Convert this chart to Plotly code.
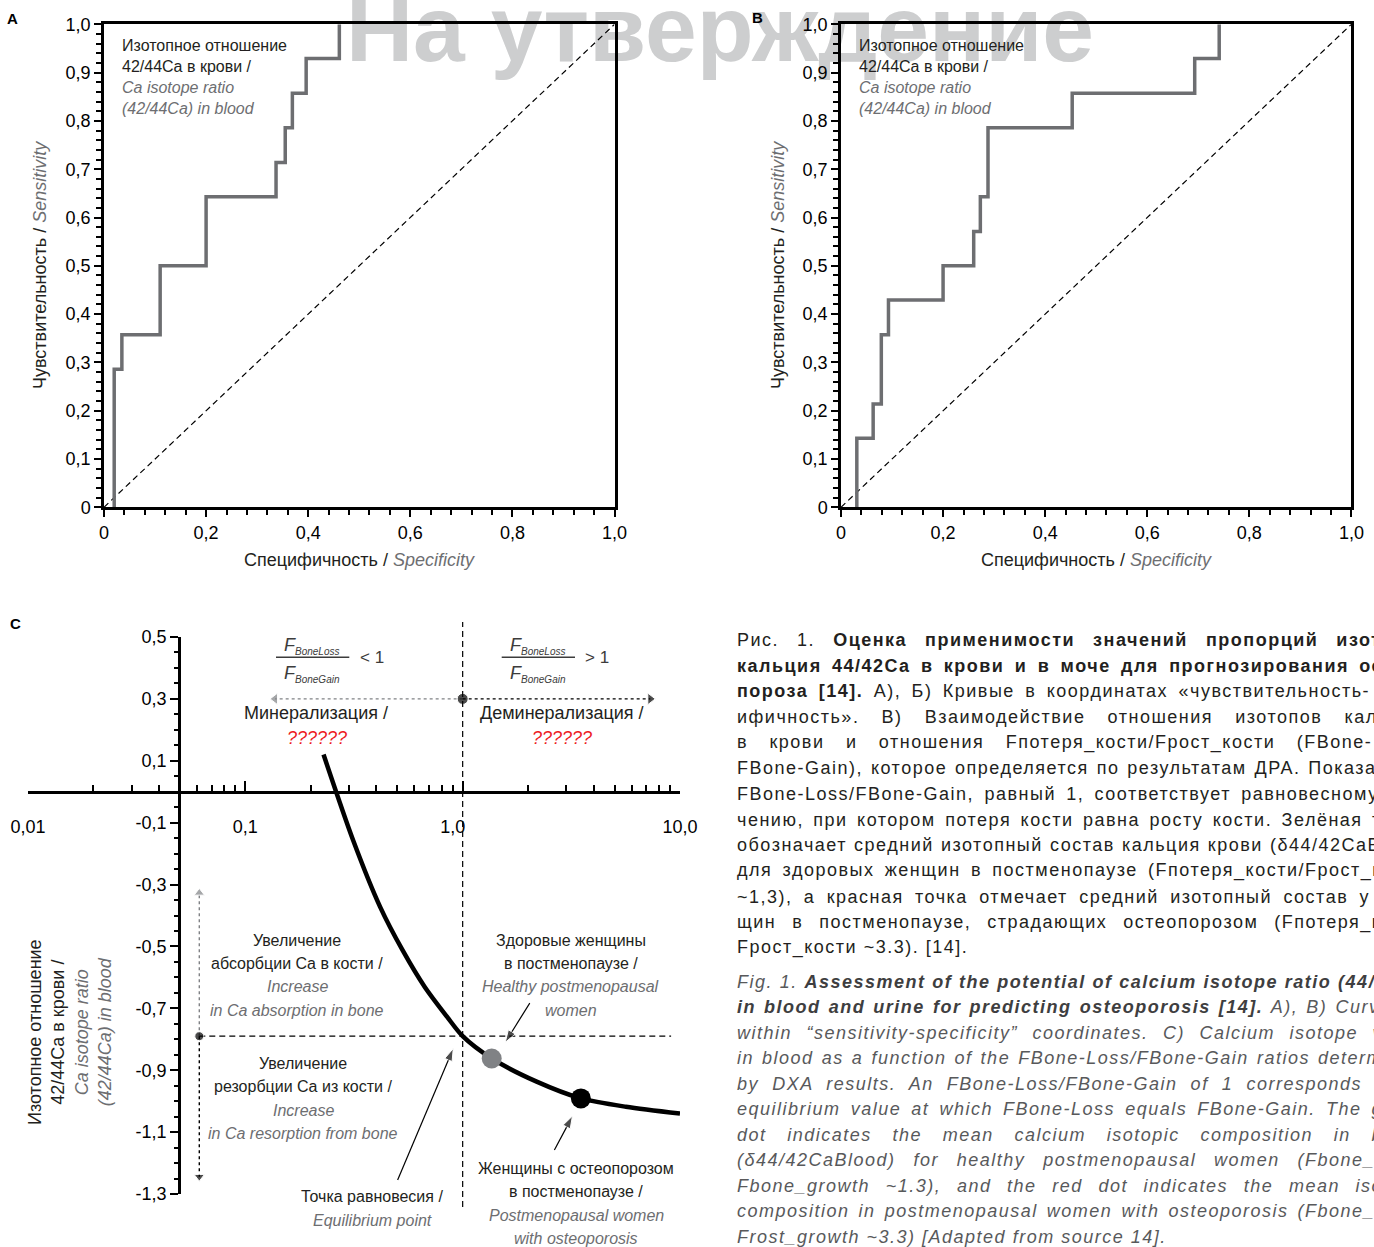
import math
import plotly.graph_objects as go

W, H = 1374, 1247
FONT = "Liberation Sans, Arial, Helvetica, sans-serif"
INK = "#231f20"
GREY = "#6d6e71"
ROC_GREY = "#6d6e71"
EN_TEXT = "#58595b"
EN_BOLD = "#3e3e40"
RED = "#ed1c24"

WATERMARK = "На утверждение"

# ---------------- Panels A and B: ROC curves ----------------
roc_a_fpr = [0.020, 0.020, 0.035, 0.110, 0.200, 0.337, 0.355, 0.369, 0.396, 0.461]
roc_a_tpr = [0.000, 0.286, 0.357, 0.500, 0.643, 0.714, 0.786, 0.857, 0.929, 1.000]
roc_b_fpr = [0.031, 0.031, 0.063, 0.079, 0.093, 0.200, 0.260, 0.273, 0.288, 0.453, 0.693, 0.741]
roc_b_tpr = [0.000, 0.143, 0.214, 0.357, 0.429, 0.500, 0.571, 0.643, 0.786, 0.857, 0.929, 1.000]
chance_line = [0, 1]
roc_x_ticks = [0, 0.2, 0.4, 0.6, 0.8, 1.0]
roc_x_labels = ["0", "0,2", "0,4", "0,6", "0,8", "1,0"]
roc_y_ticks = [0, 0.1, 0.2, 0.3, 0.4, 0.5, 0.6, 0.7, 0.8, 0.9, 1.0]
roc_y_labels = ["0", "0,1", "0,2", "0,3", "0,4", "0,5", "0,6", "0,7", "0,8", "0,9", "1,0"]
inset_text = ["Изотопное отношение", "42/44Ca в крови /", "Ca isotope ratio", "(42/44Ca) in blood"]
inset_lang = ["ru", "ru", "en", "en"]

# ---------------- Panel C: isotope ratio vs FBoneLoss/FBoneGain ----------------
ratio_ticks = [0.01, 0.1, 1, 10]
ratio_tick_text = ["0,01", "0,1", "1,0\u2007\u2007", "10,0"]
ratio_minor = [k * 10 ** e for e in (-2, -1, 0) for k in range(2, 10)]
delta_ticks = [0.5, 0.3, 0.1, -0.1, -0.3, -0.5, -0.7, -0.9, -1.1, -1.3]
delta_tick_text = ["0,5", "0,3", "0,1", "-0,1", "-0,3", "-0,5", "-0,7", "-0,9", "-1,1", "-1,3"]
curve_ratio = [0.229, 0.313, 0.417, 0.529, 0.668, 0.847, 1.00, 1.36, 2.19, 3.50, 5.64, 10.0]
curve_delta = [0.120, -0.156, -0.372, -0.512, -0.630, -0.727, -0.790, -0.862, -0.937, -0.991, -1.018, -1.040]
equilibrium_ratio, equilibrium_delta = 1.0, -0.79
healthy_ratio, healthy_delta = 1.36, -0.862
osteo_ratio, osteo_delta = 3.5, -0.991
regime_delta = 0.3
mineral_end_ratio, demineral_end_ratio = 0.137, 7.3
marker_ratio = 0.0614
absorption_end_delta, resorption_end_delta = -0.327, -1.244
guide_end_ratio = 9.1
# pointer arrows: (tail ratio, tail delta, head ratio, head delta)
pointer_equilibrium = (0.502, -1.255, 0.905, -0.830)
pointer_healthy = (2.036, -0.683, 1.570, -0.810)
pointer_osteo = (2.643, -1.158, 3.200, -1.048)

# ---------------- Caption ----------------
caption_ru = [
    [("Рис. 1. ", ""), ("Оценка применимости значений пропорций изот", "b")],
    [("кальция 44/42Ca в крови и в моче для прогнозирования ос", "b")],
    [("пороза [14].", "b"), (" А), Б) Кривые в координатах «чувствительность-", "")],
    [("ифичность». В) Взаимодействие отношения изотопов кал", "")],
    [("в крови и отношения Fпотеря_кости/Fрост_кости (FBone-", "")],
    [("FBone-Gain), которое определяется по результатам ДРА. Показа", "")],
    [("FBone-Loss/FBone-Gain, равный 1, соответствует равновесному", "")],
    [("чению, при котором потеря кости равна росту кости. Зелёная т", "")],
    [("обозначает средний изотопный состав кальция крови (δ44/42CaB", "")],
    [("для здоровых женщин в постменопаузе (Fпотеря_кости/Fрост_к", "")],
    [("~1,3), а красная точка отмечает средний изотопный состав у", "")],
    [("щин в постменопаузе, страдающих остеопорозом (Fпотеря_к", "")],
    [("Fрост_кости ~3.3). [14].", "")],
]
caption_en = [
    [("Fig. 1. ", ""), ("Assessment of the potential of calcium isotope ratio (44/4", "b")],
    [("in blood and urine for predicting osteoporosis [14].", "b"), (" A), B) Curve", "")],
    [("within “sensitivity-specificity” coordinates. C) Calcium isotope v", "")],
    [("in blood as a function of the FBone-Loss/FBone-Gain ratios determ", "")],
    [("by DXA results. An FBone-Loss/FBone-Gain of 1 corresponds t", "")],
    [("equilibrium value at which FBone-Loss equals FBone-Gain. The g", "")],
    [("dot indicates the mean calcium isotopic composition in b", "")],
    [("(δ44/42CaBlood) for healthy postmenopausal women (Fbone_", "")],
    [("Fbone_growth ~1.3), and the red dot indicates the mean iso", "")],
    [("composition in postmenopausal women with osteoporosis (Fbone_", "")],
    [("Frost_growth ~3.3) [Adapted from source 14].", "")],
]
# justification targets (px width of each line; None = natural)
ru_targets = [646, 646, 636, 642, 636, 646, 644, 646, 646, 646, 636, 646, None]
en_targets = [646, 646, 646, 646, 646, 646, 646, 638, 646, 638, None]

# approximate Arial / Liberation Sans advance widths (1/1000 em) for justification
CHAR_W = {}
CHAR_W.update(zip("abcdefghijklmnopqrstuvwxyz",
                  [556, 556, 500, 556, 556, 278, 556, 556, 222, 222, 500, 222, 833, 556, 556, 556, 556, 333, 500, 278, 556, 500, 722, 500, 500, 500]))
CHAR_W.update(zip("ABCDEFGHIJKLMNOPQRSTUVWXYZ",
                  [667, 667, 722, 722, 667, 611, 778, 722, 278, 500, 667, 556, 833, 722, 778, 667, 778, 722, 667, 611, 722, 667, 944, 667, 667, 611]))
CHAR_W.update(zip("абвгдеёжзийклмнопрстуфхцчшщъыьэюя",
                  [556, 573, 531, 365, 583, 556, 556, 669, 458, 559, 559, 438, 583, 688, 552, 556, 542, 556, 500, 458, 500, 823, 500, 573, 521, 802, 823, 625, 719, 521, 510, 750, 542]))
CHAR_W.update(zip("АБВГДЕЁЖЗИЙКЛМНОПРСТУФХЦЧШЩЪЫЬЭЮЯ",
                  [667, 656, 667, 542, 677, 667, 667, 923, 604, 719, 719, 583, 656, 833, 722, 778, 719, 667, 722, 611, 635, 760, 667, 740, 667, 917, 938, 792, 885, 656, 719, 1010, 722]))
CHAR_W.update({" ": 278, ".": 278, ",": 278, ":": 278, ";": 278, "(": 333, ")": 333, "[": 278, "]": 278,
               "/": 278, "-": 333, "_": 556, "~": 584, "«": 556, "»": 556, "“": 333, "”": 333, "δ": 556})
CAP_SIZE = 18
CAP_LS = 1.5


def px(x):
    return x / W


def py(y):
    return 1 - y / H


fig = go.Figure()

# ---- watermark (bottom subplot, under every other layer) ----
fig.add_trace(go.Scatter(x=[720], y=[38], mode="text", text=[WATERMARK],
                         textfont=dict(family=FONT, size=93, color="#cdcecf", weight="bold"),
                         textposition="middle center", xaxis="x", yaxis="y",
                         hoverinfo="skip", showlegend=False))

# ---- panels A and B ----
for xa, ya, fpr, tpr in (("x2", "y2", roc_a_fpr, roc_a_tpr), ("x3", "y3", roc_b_fpr, roc_b_tpr)):
    fig.add_trace(go.Scatter(x=chance_line, y=chance_line, mode="lines",
                             line=dict(color="black", width=1.2, dash="6px,4px"),
                             xaxis=xa, yaxis=ya, hoverinfo="skip", showlegend=False))
    fig.add_trace(go.Scatter(x=fpr, y=tpr, mode="lines",
                             line=dict(color=ROC_GREY, width=3.5, shape="hv"),
                             xaxis=xa, yaxis=ya, showlegend=False))

# ---- panel C ----
C = dict(xaxis="x4", yaxis="y4", hoverinfo="skip", showlegend=False)
fig.add_trace(go.Scatter(x=[marker_ratio, guide_end_ratio], y=[equilibrium_delta] * 2, mode="lines",
                         line=dict(color="black", width=1.2, dash="6px,4px"), **C))
fig.add_trace(go.Scatter(x=[equilibrium_ratio, mineral_end_ratio], y=[regime_delta] * 2, mode="lines+markers",
                         line=dict(color="#808285", width=1.4, dash="dot"),
                         marker=dict(symbol=["circle", "triangle-left"], size=[0, 10], color="#808285"), **C))
fig.add_trace(go.Scatter(x=[equilibrium_ratio, demineral_end_ratio], y=[regime_delta] * 2, mode="lines+markers",
                         line=dict(color="black", width=1.4, dash="dot"),
                         marker=dict(symbol=["circle", "triangle-right"], size=[0, 10], color="black"), **C))
fig.add_trace(go.Scatter(x=[marker_ratio] * 2, y=[equilibrium_delta, absorption_end_delta], mode="lines+markers",
                         line=dict(color="#808285", width=1.4, dash="dot"),
                         marker=dict(symbol=["circle", "triangle-up"], size=[0, 9], color="#808285"), **C))
fig.add_trace(go.Scatter(x=[marker_ratio] * 2, y=[equilibrium_delta, resorption_end_delta], mode="lines+markers",
                         line=dict(color="black", width=1.4, dash="dot"),
                         marker=dict(symbol=["circle", "triangle-down"], size=[0, 9], color="black"), **C))
fig.add_trace(go.Scatter(x=[equilibrium_ratio, marker_ratio], y=[regime_delta, equilibrium_delta], mode="markers",
                         marker=dict(size=[11, 9], color="black"), **C))
fig.add_trace(go.Scatter(x=curve_ratio, y=curve_delta, mode="lines",
                         line=dict(color="black", width=4.5, shape="spline", smoothing=0.8), **C))
fig.add_trace(go.Scatter(x=[healthy_ratio], y=[healthy_delta], mode="markers",
                         marker=dict(size=20, color="#808285"), **C))
fig.add_trace(go.Scatter(x=[osteo_ratio], y=[osteo_delta], mode="markers",
                         marker=dict(size=20, color="black"), **C))
# pointer arrows from labels to the marked points
for tx, ty, hx, hy in (pointer_equilibrium, pointer_healthy, pointer_osteo):
    fig.add_trace(go.Scatter(x=[tx, hx], y=[ty, hy], mode="lines+markers",
                             line=dict(color="black", width=1.2),
                             marker=dict(symbol=["circle", "arrow"], size=[0, 13], color="black",
                                         angleref="previous"), **C))

# vertical dashed line at ratio = 1 (extends slightly beyond the value axis)
fig.add_shape(type="line", xref="x4", yref="paper", x0=equilibrium_ratio, x1=equilibrium_ratio,
              y0=py(1207), y1=py(622), line=dict(color="black", width=1.2, dash="6px,4px"))

# ---- axes ----
tickfont = dict(family=FONT, size=18, color="black")
roc_x = dict(range=[0, 1], showline=True, linecolor="black", linewidth=2.5, mirror=True,
             ticks="outside", ticklen=7, tickwidth=2, tickcolor="black",
             tickmode="array", tickvals=roc_x_ticks, ticktext=roc_x_labels, tickfont=tickfont,
             minor=dict(ticks="outside", tick0=0, dtick=0.04, ticklen=5, tickwidth=2, tickcolor="black", showgrid=False),
             showgrid=False, zeroline=False, fixedrange=True)
roc_y = dict(range=[0, 1], showline=True, linecolor="black", linewidth=2.5, mirror=True,
             ticks="outside", ticklen=7, tickwidth=2, tickcolor="black",
             tickmode="array", tickvals=roc_y_ticks, ticktext=roc_y_labels, tickfont=tickfont,
             minor=dict(ticks="outside", tick0=0, dtick=0.02, ticklen=5, tickwidth=2, tickcolor="black", showgrid=False),
             showgrid=False, zeroline=False, fixedrange=True)

fig.update_layout(
    width=W, height=H, margin=dict(l=0, r=0, t=0, b=0, autoexpand=False),
    paper_bgcolor="white", plot_bgcolor="rgba(0,0,0,0)", showlegend=False,
    font=dict(family=FONT, color=INK),
    xaxis=dict(domain=[0, 1], range=[0, W], visible=False, fixedrange=True),
    yaxis=dict(domain=[0, 1], range=[H, 0], visible=False, fixedrange=True),
    xaxis2=dict(domain=[px(104), px(614.5)], anchor="y2", **roc_x),
    yaxis2=dict(domain=[py(507.3), py(24.3)], anchor="x2", **roc_y),
    xaxis3=dict(domain=[px(841), px(1351.4)], anchor="y3", **roc_x),
    yaxis3=dict(domain=[py(507.3), py(24.3)], anchor="x3", **roc_y),
    xaxis4=dict(type="log", range=[-2, 1], domain=[px(28), px(680)], anchor="free", position=py(791.7),
                showline=True, linecolor="black", linewidth=2.5,
                ticks="inside", ticklen=10, tickwidth=2, tickcolor="black",
                tickmode="array", tickvals=ratio_ticks, ticktext=ratio_tick_text, tickfont=tickfont,
                ticklabelstandoff=18,
                minor=dict(ticks="inside", tickmode="array", tickvals=ratio_minor, ticklen=6, tickwidth=2,
                           tickcolor="black", showgrid=False),
                showgrid=False, zeroline=False, fixedrange=True),
    yaxis4=dict(range=[-1.3, 0.5], domain=[py(1194), py(637)], anchor="free", position=px(179),
                showline=True, linecolor="black", linewidth=2.5,
                ticks="outside", ticklen=8, tickwidth=2, tickcolor="black",
                tickmode="array", tickvals=delta_ticks, ticktext=delta_tick_text, tickfont=tickfont,
                minor=dict(ticks="outside", tick0=0, dtick=0.05, ticklen=4, tickwidth=2, tickcolor="black",
                           showgrid=False),
                showgrid=False, zeroline=False, fixedrange=True),
)


def label(x, y, text, size=16, color=INK, xanchor="center", angle=0):
    fig.add_annotation(x=px(x), y=py(y), xref="paper", yref="paper", text=text, showarrow=False,
                       font=dict(family=FONT, size=size, color=color), xanchor=xanchor, yanchor="middle",
                       textangle=angle)


def styled(text, lang):
    return text if lang == "ru" else f"<i>{text}</i>"


# panel letters
label(12.5, 19, "<b>A</b>", 15, "black")
label(757, 18, "<b>B</b>", 15, "black")
label(15, 623, "<b>C</b>", 15, "black")

# axis titles (A, B)
xt = "Специфичность / <i><span style='color:%s'>Specificity</span></i>" % GREY
yt = "Чувствительность / <i><span style='color:%s'>Sensitivity</span></i>" % GREY
label(359, 560, xt, 18)
label(1096, 560, xt, 18)
label(40, 265, yt, 18, angle=-90)
label(778, 265, yt, 18, angle=-90)

# inset legends
for x0 in (120, 857):
    for i, (t, lang) in enumerate(zip(inset_text, inset_lang)):
        label(x0, 45 + i * 21.2, styled(t, lang), 16, INK if lang == "ru" else GREY, xanchor="left")

# ---- panel C annotations ----
label(70, 1032, "Изотопное отношение<br>42/44Ca в крови /<br>"
                "<i><span style='color:%s'>Ca isotope ratio</span></i><br>"
                "<i><span style='color:%s'>(42/44Ca) in blood</span></i>" % (GREY, GREY), 18, angle=-90)

frac_color = "#3c3c3c"
for cx, bar0, bar1, sign, sx in ((311.5, 276, 349.3, "&lt; 1", 371.7), (537.5, 501.7, 575, "&gt; 1", 597)):
    label(cx, 645.5, "<i>F<sub><span style='font-size:10px'>BoneLoss</span></sub></i>", 18, frac_color)
    label(cx, 674, "<i>F<sub><span style='font-size:10px'>BoneGain</span></sub></i>", 18, frac_color)
    label(sx, 657, sign, 17, frac_color)
    fig.add_shape(type="line", xref="paper", yref="paper", x0=px(bar0), x1=px(bar1), y0=py(657.3), y1=py(657.3),
                  line=dict(color=frac_color, width=1.6))

label(315.5, 713, "Минерализация /", 18)
label(317, 738, "<i>??????</i>", 18, RED)
label(561.7, 713, "Деминерализация /", 18)
label(562, 738, "<i>??????</i>", 18, RED)

blocks = [
    (297, 940, ["Увеличение", "абсорбции Ca в кости /", "Increase", "in Ca absorption in bone"]),
    (303, 1063.3, ["Увеличение", "резорбции Ca из кости /", "Increase", "in Ca resorption from bone"]),
    (570.5, 940, ["Здоровые женщины", "в постменопаузе /", "Healthy postmenopausal", "women"]),
    (576, 1168.3, ["Женщины с остеопорозом", "в постменопаузе /", "Postmenopausal women", "with osteoporosis"]),
]
for cx, y0, lines in blocks:
    for i, t in enumerate(lines):
        lang = "ru" if i < 2 else "en"
        label(cx, y0 + i * 23.4, styled(t, lang), 16, INK if lang == "ru" else GREY)
label(372, 1196.7, "Точка равновесия /", 16)
label(372, 1220, "<i>Equilibrium point</i>", 16, GREY)


# ---- caption (justified lines) ----
def em_width(segments):
    total, n_chars, n_spaces = 0.0, 0, 0
    for text, style in segments:
        for ch in text:
            w = CHAR_W.get(ch, 556)
            if style == "b" and ch != " ":
                w *= 1.08
            total += w
            n_chars += 1
            n_spaces += ch == " "
    return total / 1000, n_chars, n_spaces


def caption_line(segments, y, target, italic, base_color, bold_color):
    em, n, ns = em_width(segments)
    natural = em * CAP_SIZE + n * CAP_LS
    ws = (target - natural) / ns if (target and ns) else 0
    parts = []
    for text, style in segments:
        if style == "b":
            parts.append("<b><span style='color:%s'>%s</span></b>" % (bold_color, text))
        else:
            parts.append(text)
    html = "".join(parts)
    if italic:
        html = "<i>%s</i>" % html
    html = "<span style='letter-spacing:%.2fpx;word-spacing:%.2fpx'>%s</span>" % (CAP_LS, ws, html)
    fig.add_annotation(x=px(735), y=py(y), xref="paper", yref="paper", xanchor="left", yanchor="middle",
                       text=html, showarrow=False, font=dict(family=FONT, size=CAP_SIZE, color=base_color))


for i, (seg, tgt) in enumerate(zip(caption_ru, ru_targets)):
    caption_line(seg, 640 + i * 25.65, tgt, False, INK, INK)
for i, (seg, tgt) in enumerate(zip(caption_en, en_targets)):
    caption_line(seg, 981.7 + i * 25.5, tgt, True, EN_TEXT, EN_BOLD)

fig.write_html("out.html", config={"displayModeBar": False},
               post_script="document.body.style.margin='0';")
